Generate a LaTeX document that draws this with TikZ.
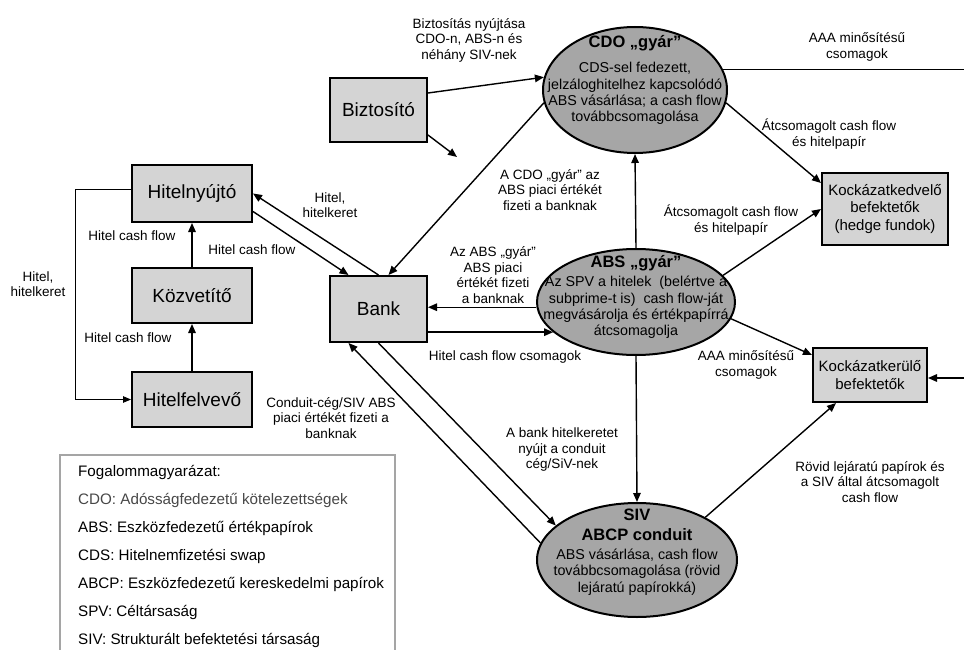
\documentclass[tikz,border=0pt]{standalone}
\usepackage{fontspec}
\setmainfont{Liberation Sans}
\usetikzlibrary{arrows.meta,shapes.geometric}

\definecolor{boxgray}{RGB}{212,212,212}
\definecolor{ellgray}{RGB}{166,166,166}
\definecolor{framegray}{RGB}{165,165,165}

\tikzset{
  actor/.style={draw, line width=2pt, fill=boxgray, inner sep=0pt, font=\fontsize{19}{22}\selectfont},
  investor/.style={draw, line width=2pt, fill=boxgray, inner sep=0pt, align=center, font=\fontsize{15}{17.5}\selectfont},
  factory/.style={ellipse, draw, line width=2pt, fill=ellgray, inner sep=0pt},
  factext/.style={align=center, inner sep=0pt, font=\fontsize{14.3}{16.3}\selectfont},
  flow/.style={-{Triangle[length=9pt,width=7.5pt]}, line width=1.4pt},
  thinflow/.style={-{Triangle[length=8pt,width=6.5pt]}, line width=0.8pt},
  note/.style={align=center, inner sep=0pt, font=\fontsize{13.5}{15.5}\selectfont},
  legendtxt/.style={inner sep=0pt, font=\fontsize{15.2}{18}\selectfont},
}
\newcommand{\ftitle}[1]{{\fontsize{16.5}{20}\selectfont\bfseries #1}}

\begin{document}
\begin{tikzpicture}[x=1pt, y=-1pt]
    \useasboundingbox (0,0) rectangle (964,650);

    % Actors
    \node[actor, minimum width=97pt, minimum height=64pt] (biz) at (378.5,110) {Biztosító};
    \node[actor, minimum width=120pt, minimum height=57pt] (hny) at (192,193.5) {Hitelnyújtó};
    \node[actor, minimum width=120pt, minimum height=55pt] (kozv) at (192,295.5) {Közvetítő};
    \node[actor, minimum width=120pt, minimum height=55pt] (hfv) at (192,399.5) {Hitelfelvevő};
    \node[actor, minimum width=97pt, minimum height=66pt] (bank) at (378.5,309) {Bank};

    % Investors
    \node[investor, minimum width=126pt, minimum height=72pt] (kkv) at (885,209) {Kockázatkedvelő\\befektetők\\(hedge fundok)};
    \node[investor, minimum width=114pt, minimum height=54pt] (kkr) at (870,375) {Kockázatkerülő\\befektetők};

    % Factories
    \node[factory, minimum width=184pt, minimum height=126pt] (cdo) at (635,90) {};
    \node[factory, minimum width=198pt, minimum height=106pt] (abs) at (636,302) {};
    \node[factory, minimum width=200pt, minimum height=114pt] (siv) at (637,560) {};
    \node[factext] (cdo-t) at ([yshift=10pt]cdo.center) {\ftitle{CDO „gyár”}\\[9pt]CDS-sel fedezett,\\jelzáloghitelhez kapcsolódó\\ABS vásárlása; a cash flow\\továbbcsomagolása};
    \node[factext] (abs-t) at ([yshift=5pt]abs.center) {\ftitle{ABS „gyár”}\\[3pt]Az SPV a hitelek \ (belértve a\\subprime-t is) \ cash flow-ját\\megvásárolja és értékpapírrá\\átcsomagolja};
    \node[factext] (siv-t) at ([yshift=8pt]siv.center) {\ftitle{SIV}\\[3.5pt]\ftitle{ABCP conduit}\\[3pt]ABS vásárlása, cash flow\\továbbcsomagolása (rövid\\lejáratú papírokká)};

    % Free ends
    \coordinate (biz-end) at (457,157);
    \coordinate (aaa-end) at (964,70);
    \coordinate (kkr-in) at (964,378);

    % Flows
    \draw[flow] ([yshift=17pt]biz.east) -- (cdo.172);
    \draw[flow] ([yshift=-25pt]biz.east) -- (biz-end);
    \draw[flow] (cdo.188) -- ([xshift=10pt]bank.north);
    \draw[flow] (bank.north) -- (hny.east);
    \draw[flow] ([yshift=-18pt]hny.east) -- ([xshift=-30pt]bank.north);
    \draw[flow] (kozv.north) -- (hny.south);
    \draw[flow] (hfv.north) -- (kozv.south);
    \draw[thinflow] ([yshift=4.5pt]hny.west) -- ++(-56,0) |- (hfv.west);
    \draw[flow] (abs.183) -- (bank.east |- abs.183);
    \draw[flow] (bank.east |- abs.200) -- (abs.200);
    \draw[flow] (abs.north) -- (cdo.south);
    \draw[flow] (abs.south) -- (siv.north);
    \draw[flow] (bank.south) -- (siv.157);
    \draw[flow] (siv.170) -- ([xshift=-30pt]bank.south);
    \draw[flow] (abs.17) -- (kkv.west);
    \draw[flow] (cdo.-8) -- ([yshift=26pt]kkv.west);
    \draw[line width=1.4pt] (cdo.13) -- (cdo.13 -| aaa-end);
    \draw[flow] (abs.-10) -- ([yshift=20pt]kkr.west);
    \draw[flow] (siv.32) -- ([xshift=-34pt]kkr.south);
    \draw[flow] (kkr-in) -- (kkr.east |- kkr-in);

    % Flow notes
    \node[note] (n-biz) at (469,40) {Biztosítás nyújtása\\CDO-n, ABS-n és\\néhány SIV-nek};
    \node[note] (n-aaa1) at (857,47) {AAA minősítésű\\csomagok};
    \node[note] (n-atcs1) at (829,134) {Átcsomagolt cash flow\\és hitelpapír};
    \node[note] (n-cdo) at (550,190) {A CDO „gyár” az\\ABS piaci értékét\\fizeti a banknak};
    \node[note] (n-atcs2) at (731,220) {Átcsomagolt cash flow\\és hitelpapír};
    \node[note] (n-hk1) at (330,205) {Hitel,\\hitelkeret};
    \node[note] (n-hcf1) at (252,250) {Hitel cash flow};
    \node[note] (n-hcf2) at (132,236) {Hitel cash flow};
    \node[note] (n-hcf3) at (128,338) {Hitel cash flow};
    \node[note] (n-hk2) at (38,284) {Hitel,\\hitelkeret};
    \node[note] (n-abs) at (493,275) {Az ABS „gyár”\\ABS piaci\\értékét fizeti\\a banknak};
    \node[note] (n-csom) at (505,357) {Hitel cash flow csomagok};
    \node[note] (n-cond) at (331,418) {Conduit-cég/SIV ABS\\piaci értékét fizeti a\\banknak};
    \node[note] (n-hker) at (562,450) {A bank hitelkeretet\\nyújt a conduit\\cég/SiV-nek};
    \node[note] (n-aaa2) at (746,365) {AAA minősítésű\\csomagok};
    \node[note] (n-rov) at (870,482) {Rövid lejáratú papírok és\\a SIV által átcsomagolt\\cash flow};

    % Legend
    \draw[framegray, line width=2.2pt] (60,652) |- (395,455) -- (395,652);
    \foreach \txt [count=\i] in {Fogalommagyarázat:, {\color{black!72}CDO: Adósságfedezetű kötelezettségek}, ABS: Eszközfedezetű értékpapírok, CDS: Hitelnemfizetési swap, ABCP: Eszközfedezetű kereskedelmi papírok, SPV: Céltársaság, SIV: Strukturált befektetési társaság} {
        \node[legendtxt, anchor=base west] (leg-\i) at (78,{476.5+28*(\i-1)}) {\txt};
    }
\end{tikzpicture}
\end{document}
